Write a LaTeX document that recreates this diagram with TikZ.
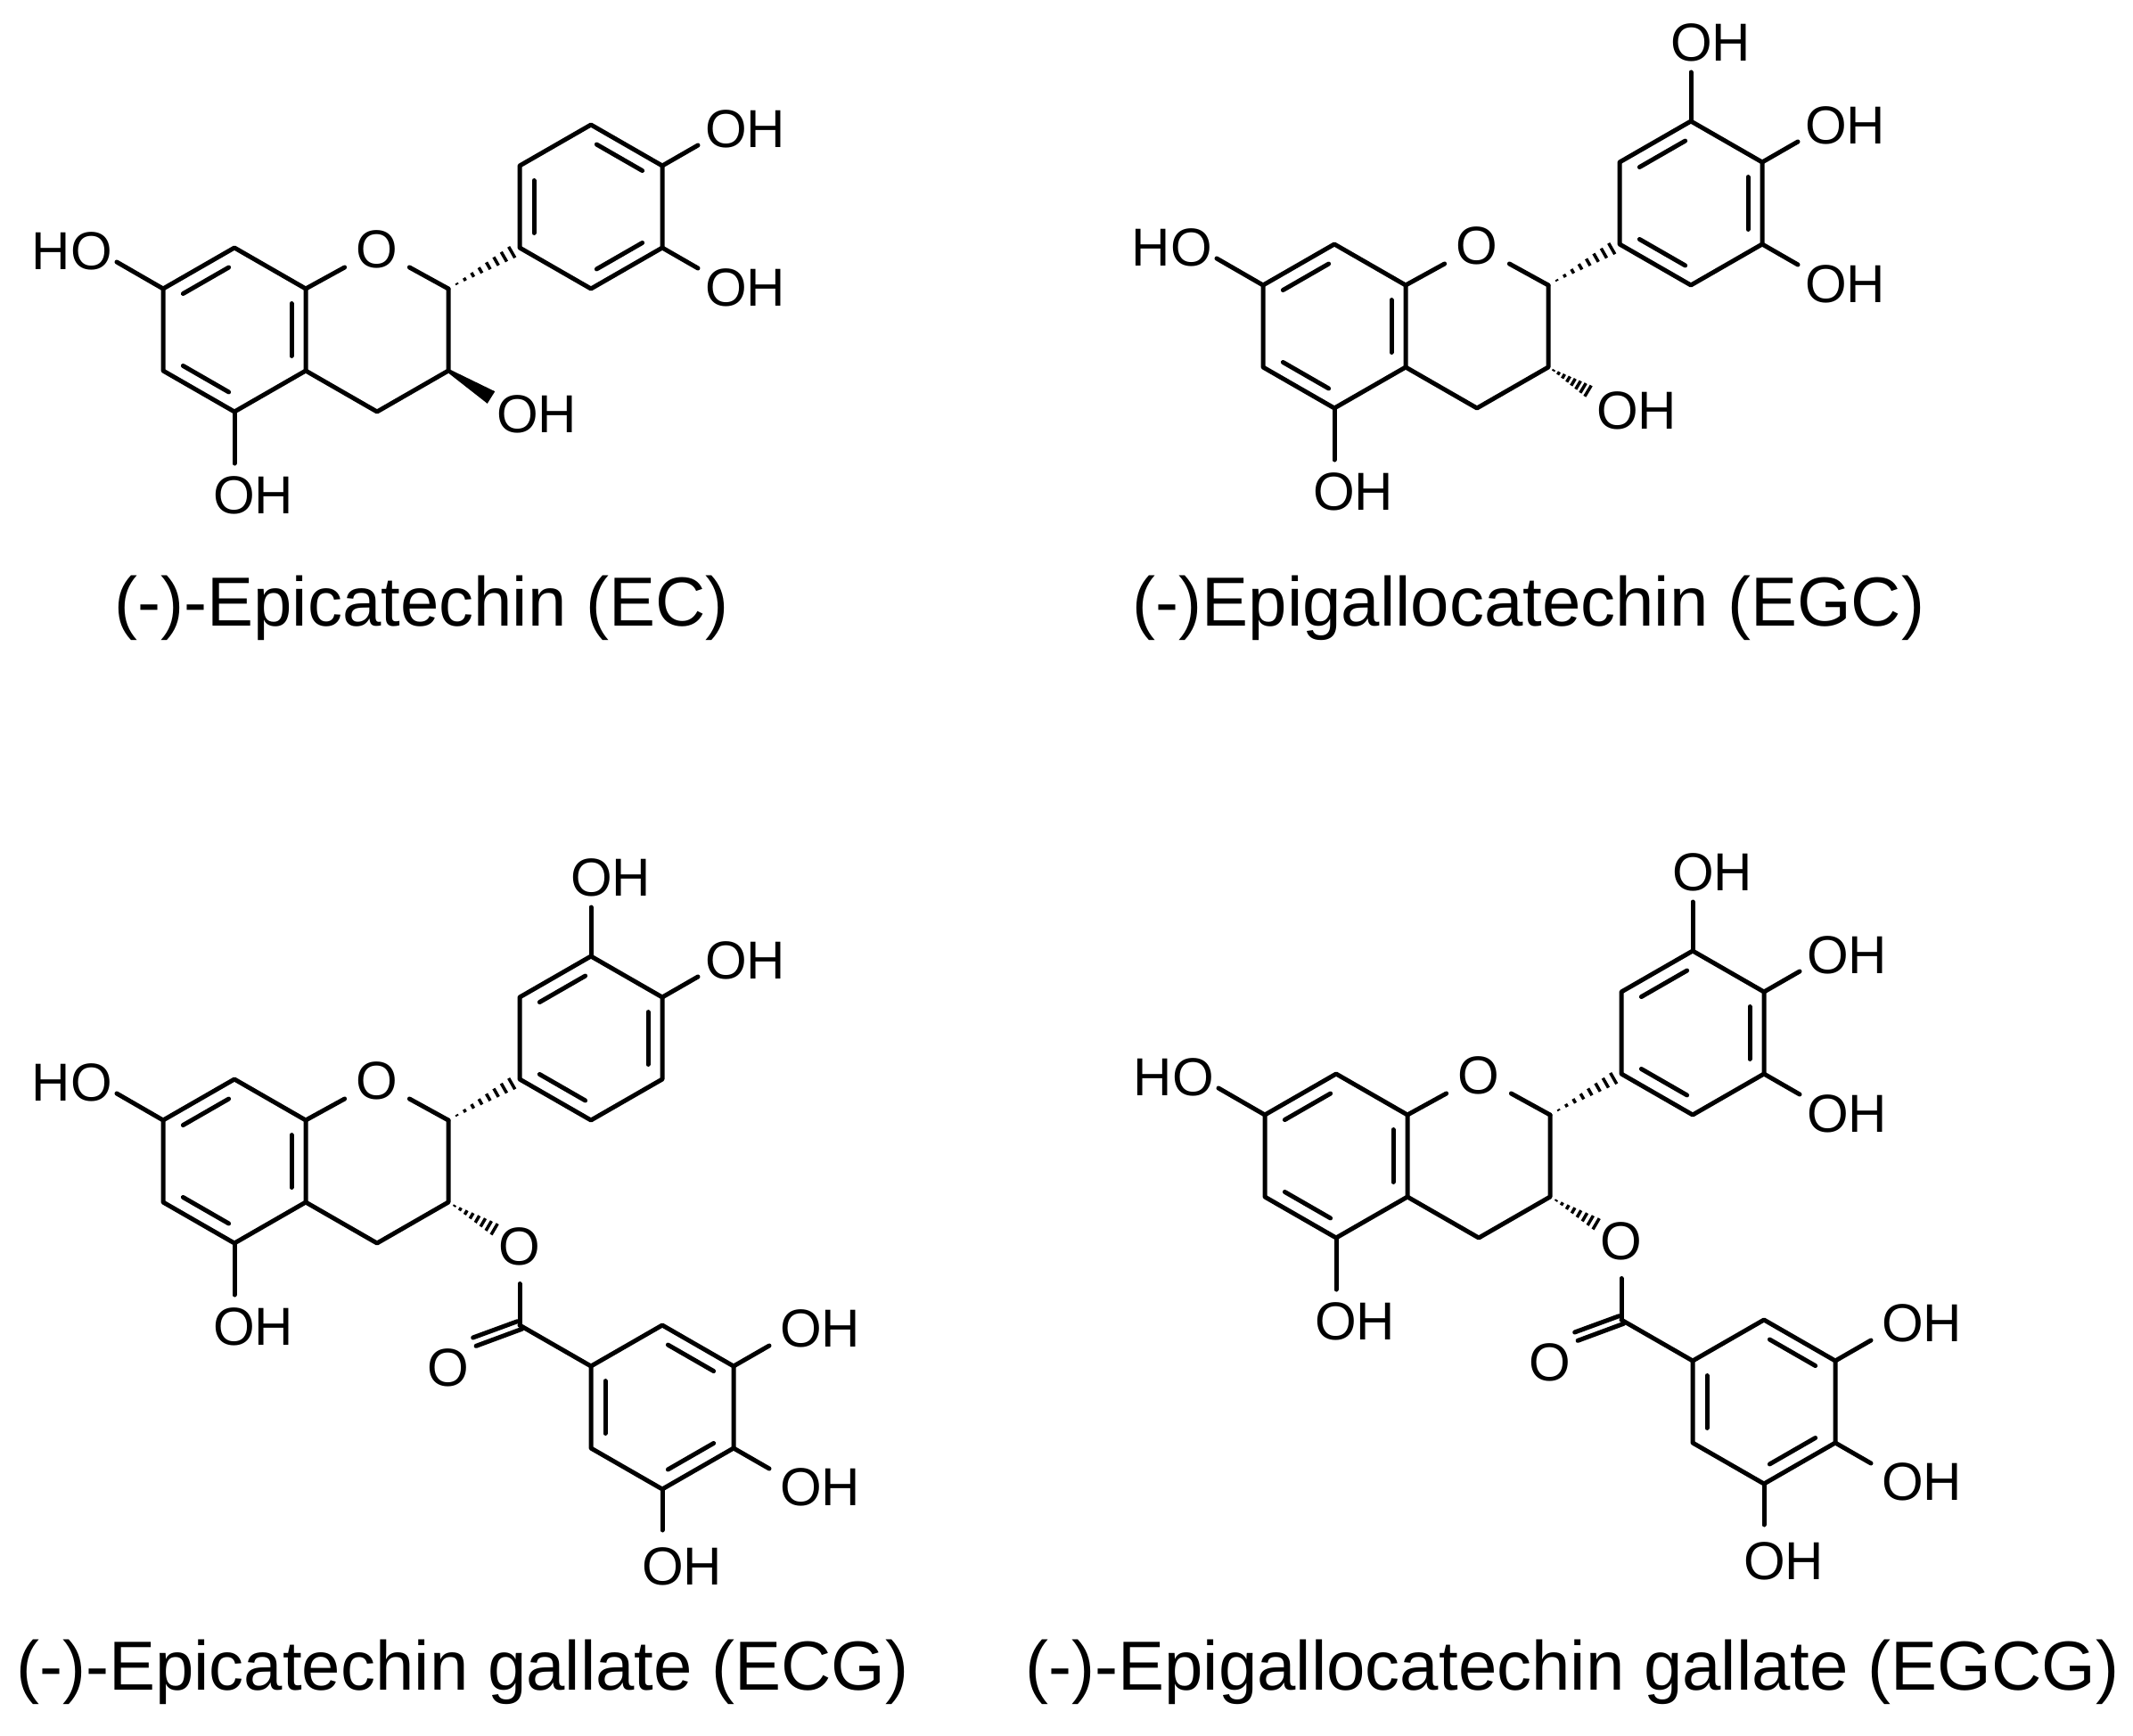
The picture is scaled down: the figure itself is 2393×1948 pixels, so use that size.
\documentclass[tikz,border=0pt]{standalone}
\usepackage{fontspec}
\setmainfont{Liberation Sans}
\usetikzlibrary{calc}
\tikzset{
  bond/.style={line width=5pt, line cap=round, line join=round},
  lbl/.style={font=\fontsize{60}{60}\selectfont, inner sep=0pt},
  atomO/.style={font=\fontsize{60}{60}\selectfont, inner sep=7pt, circle},
  ttl/.style={font=\fontsize{78}{78}\selectfont, inner sep=0pt}
}
\newcommand\dbl[3]{%
  \path ($(#3)!0.8!(#1)$) coordinate (tp) ($(#3)!0.8!(#2)$) coordinate (tq);
  \draw[bond] ($(tp)!0.1!(tq)$) -- ($(tq)!0.1!(tp)$);}
\newcommand\hashb[2]{%
  \foreach \t in {0.12,0.23,...,0.96}{%
    \pgfmathsetmacro\hw{\t*8}
    \path ($(#1)!\t!(#2)$) coordinate (hp);
    \draw[line width=3.5pt] ($(hp)!\hw pt!90:(#2)$) -- ($(hp)!\hw pt!-90:(#2)$);}}
\newcommand\wedgeb[2]{%
  \fill ($(#1)!2pt!90:(#2)$) -- ($(#2)!8pt!-90:(#1)$) -- ($(#2)!8pt!90:(#1)$) -- ($(#1)!2pt!-90:(#2)$) -- cycle;}
% core: prefix, x, y
\newcommand\core[3]{%
\begin{scope}[shift={(#2,#3)}]
\coordinate (#1a1) at (0,-92); \coordinate (#1a2) at (-80,-46);
\coordinate (#1a3) at (-80,46); \coordinate (#1a4) at (0,92);
\coordinate (#1a5) at (80,46); \coordinate (#1a6) at (80,-46);
\coordinate (#1ca) at (0,0);
\node[atomO] (#1O1) at (160,-90) {O};
\coordinate (#1c2) at (240,-46); \coordinate (#1c3) at (240,46);
\coordinate (#1c4) at (160,92);
\coordinate (#1b1) at (320,-92); \coordinate (#1b2) at (320,-184);
\coordinate (#1b3) at (400,-230); \coordinate (#1b4) at (480,-184);
\coordinate (#1b5) at (480,-92); \coordinate (#1b6) at (400,-46);
\coordinate (#1cb) at (400,-138);
\draw[bond] (#1a1)--(#1a2)--(#1a3)--(#1a4)--(#1a5)--(#1a6)--cycle;
\draw[bond] (#1a6)--(#1O1); \draw[bond] (#1O1)--(#1c2);
\draw[bond] (#1c2)--(#1c3)--(#1c4)--(#1a5);
\draw[bond] (#1b1)--(#1b2)--(#1b3)--(#1b4)--(#1b5)--(#1b6)--cycle;
\dbl{#1a1}{#1a2}{#1ca}\dbl{#1a3}{#1a4}{#1ca}\dbl{#1a5}{#1a6}{#1ca}
\coordinate (#1e7) at (-132,-76); \draw[bond] (#1a2)--(#1e7);
\node[lbl,anchor=east] (#1ho7) at (-137,-88) {HO};
\coordinate (#1e5) at (0,150); \draw[bond] (#1a4)--(#1e5);
\node[lbl,anchor=west] (#1oh5) at (-24,186) {OH};
\hashb{#1c2}{#1b1}
\end{scope}}
% gallate ester: prefix, x, y
\newcommand\ester[3]{%
\begin{scope}[shift={(#2,#3)}]
\node[atomO] (#1Oe) at (320,96) {O};
\coordinate (#1he) at (298,80);
\hashb{#1c3}{#1he}
\coordinate (#1cc) at (320,184);
\draw[bond] (#1Oe)--(#1cc);
\node[atomO] (#1Oc) at (240,232) {O};
\draw[bond] ($(#1cc)!5pt!90:(#1Oc)$) -- ($(#1Oc.north east)!5pt!-90:(#1cc)$);
\draw[bond] ($(#1cc)!5pt!-90:(#1Oc)$) -- ($(#1Oc.north east)!5pt!90:(#1cc)$);
\coordinate (#1g1) at (400,230); \coordinate (#1g2) at (480,184);
\coordinate (#1g3) at (560,230); \coordinate (#1g4) at (560,322);
\coordinate (#1g5) at (480,368); \coordinate (#1g6) at (400,322);
\coordinate (#1cg) at (480,276);
\draw[bond] (#1cc)--(#1g1);
\draw[bond] (#1g1)--(#1g2)--(#1g3)--(#1g4)--(#1g5)--(#1g6)--cycle;
\dbl{#1g2}{#1g3}{#1cg}\dbl{#1g4}{#1g5}{#1cg}\dbl{#1g6}{#1g1}{#1cg}
\coordinate (#1f3) at (600,207); \draw[bond] (#1g3)--(#1f3);
\node[lbl,anchor=west] (#1go3) at (612,188) {OH};
\coordinate (#1f4) at (600,345); \draw[bond] (#1g4)--(#1f4);
\node[lbl,anchor=west] (#1go4) at (612,366) {OH};
\coordinate (#1f5) at (480,414); \draw[bond] (#1g5)--(#1f5);
\node[lbl,anchor=west] (#1go5) at (457,455) {OH};
\end{scope}}
\begin{document}
\begin{tikzpicture}[x=1pt,y=-1pt]
\useasboundingbox (0,0) rectangle (2393,1948);
\fill[white] (0,0) rectangle (2393,1948);
% ---------- EC ----------
\core{p}{263}{370}
\begin{scope}[shift={(263,370)}]
\dbl{pb1}{pb2}{pcb}\dbl{pb3}{pb4}{pcb}\dbl{pb5}{pb6}{pcb}
\coordinate (pf4) at (520,-207); \draw[bond] (pb4)--(pf4);
\node[lbl,anchor=west] (pob4) at (528,-225) {OH};
\coordinate (pf5) at (520,-69); \draw[bond] (pb5)--(pf5);
\node[lbl,anchor=west] (pob5) at (528,-47) {OH};
\coordinate (pe3) at (288,76); \wedgeb{pc3}{pe3}
\node[lbl,anchor=west] (poh3) at (294,95) {OH};
\end{scope}
\node[ttl] (tEC) at (473,682) {(-)-Epicatechin (EC)};
% ---------- EGC ----------
\core{q}{1497}{366}
\begin{scope}[shift={(1497,366)}]
\dbl{qb2}{qb3}{qcb}\dbl{qb4}{qb5}{qcb}\dbl{qb6}{qb1}{qcb}
\coordinate (qf3) at (400,-285); \draw[bond] (qb3)--(qf3);
\node[lbl,anchor=west] (qob3) at (377,-318) {OH};
\coordinate (qf4) at (520,-207); \draw[bond] (qb4)--(qf4);
\node[lbl,anchor=west] (qob4) at (528,-225) {OH};
\coordinate (qf5) at (520,-69); \draw[bond] (qb5)--(qf5);
\node[lbl,anchor=west] (qob5) at (528,-47) {OH};
\coordinate (qe3) at (290,76); \hashb{qc3}{qe3}
\node[lbl,anchor=west] (qoh3) at (294,95) {OH};
\end{scope}
\node[ttl] (tEGC) at (1715,682) {(-)Epigallocatechin (EGC)};
% ---------- ECG ----------
\core{r}{263}{1303}
\begin{scope}[shift={(263,1303)}]
\dbl{rb2}{rb3}{rcb}\dbl{rb4}{rb5}{rcb}\dbl{rb6}{rb1}{rcb}
\coordinate (rf3) at (400,-285); \draw[bond] (rb3)--(rf3);
\node[lbl,anchor=west] (rob3) at (377,-318) {OH};
\coordinate (rf4) at (520,-207); \draw[bond] (rb4)--(rf4);
\node[lbl,anchor=west] (rob4) at (528,-225) {OH};
\end{scope}
\ester{r}{263}{1303}
\node[ttl] (tECG) at (519,1876) {(-)-Epicatechin gallate (ECG)};
% ---------- EGCG ----------
\core{s}{1499}{1297}
\begin{scope}[shift={(1499,1297)}]
\dbl{sb2}{sb3}{scb}\dbl{sb4}{sb5}{scb}\dbl{sb6}{sb1}{scb}
\coordinate (sf3) at (400,-285); \draw[bond] (sb3)--(sf3);
\node[lbl,anchor=west] (sob3) at (377,-318) {OH};
\coordinate (sf4) at (520,-207); \draw[bond] (sb4)--(sf4);
\node[lbl,anchor=west] (sob4) at (528,-225) {OH};
\coordinate (sf5) at (520,-69); \draw[bond] (sb5)--(sf5);
\node[lbl,anchor=west] (sob5) at (528,-47) {OH};
\end{scope}
\ester{s}{1499}{1297}
\node[ttl] (tEGCG) at (1764,1876) {(-)-Epigallocatechin gallate (EGCG)};
\end{tikzpicture}
\end{document}
